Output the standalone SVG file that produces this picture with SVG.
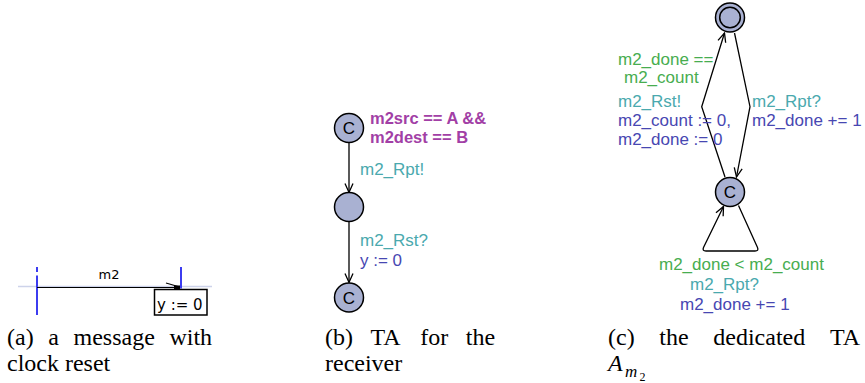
<svg xmlns="http://www.w3.org/2000/svg" width="865" height="383" viewBox="0 0 865 383">
<style>
.loc{fill:#a9b1d2;stroke:#000;stroke-width:1.5}
.edge{fill:none;stroke:#000;stroke-width:1.3}
.lbl{font-family:"Liberation Sans",Arial,sans-serif;font-size:17px}
.cl{font-family:"Liberation Sans",Arial,sans-serif;font-size:17px;fill:#000;text-anchor:middle}
.guard{fill:#47ad50}
.sync{fill:#4aa9ae}
.upd{fill:#4747b2}
.inv{fill:#a23fa6;font-weight:bold;font-size:16.5px}
.cap{font-family:"Liberation Serif","Times New Roman",serif;font-size:24px;fill:#000}
.life{stroke:#3c3cf0;stroke-width:2}
.msc{font-family:"DejaVu Sans",sans-serif;fill:#000}
</style>
<defs>
<marker id="arr" viewBox="-10 -6 12 12" markerWidth="12" markerHeight="12" refX="0" refY="0" orient="auto" markerUnits="userSpaceOnUse">
<path d="M -9,-4 L 0,0 L -9,4" fill="none" stroke="#000" stroke-width="1.3"/>
</marker>
</defs>

<!-- (a) message sequence -->
<g id="msc-a">
<line x1="18" y1="286.5" x2="212" y2="286.5" stroke="#cdd3ea" stroke-width="1.5"/>
<line class="life" x1="37" y1="267" x2="37" y2="272"/>
<line class="life" x1="37" y1="275.5" x2="37" y2="315"/>
<line class="life" x1="181" y1="267" x2="181" y2="288.5"/>
<line x1="37" y1="287.5" x2="179" y2="287.5" stroke="#000" stroke-width="1.2"/>
<path d="M 166,283 L 178,286.5" stroke="#000" stroke-width="1.2" fill="none"/>
<rect x="174" y="285.5" width="6" height="3.5" fill="#000"/>
<text class="msc" x="109" y="279" font-size="13" text-anchor="middle">m2</text>
<rect x="154.5" y="289.5" width="52.5" height="25.5" fill="#fff" stroke="#000" stroke-width="1.5"/>
<text class="msc" x="157" y="310" font-size="15">y := 0</text>
</g>

<!-- connectors -->
<g id="connectors">
<line class="edge" x1="349" y1="143" x2="349" y2="192.5" marker-end="url(#arr)"/>
<line class="edge" x1="349" y1="222" x2="349" y2="282.5" marker-end="url(#arr)"/>
<path class="edge" d="M 725,177 L 701.7,106.7 L 724.5,33" marker-end="url(#arr)"/>
<path class="edge" d="M 734.5,33 L 750,106.7 L 736.5,177" marker-end="url(#arr)"/>
<path class="edge" d="M 738.5,205.5 L 757.5,247.5 Q 759,251 755,251 L 706,251 Q 702,251 703.5,247.5 L 723.5,206.5" marker-end="url(#arr)"/>
</g>

<!-- (b) receiver TA -->
<g id="b-n1">
<circle class="loc" cx="349" cy="128" r="14.5"/>
<text class="cl" x="349" y="134">C</text>
<text class="lbl inv" x="370" y="124">m2src == A &amp;&amp;</text>
<text class="lbl inv" x="370" y="142.5">m2dest == B</text>
</g>
<g id="b-n2">
<circle class="loc" cx="349" cy="207" r="14.5"/>
</g>
<g id="b-n3">
<circle class="loc" cx="349" cy="297.5" r="14.5"/>
<text class="cl" x="349" y="303.5">C</text>
</g>
<g id="b-labels">
<text class="lbl sync" x="360" y="175">m2_Rpt!</text>
<text class="lbl sync" x="360" y="245.5">m2_Rst?</text>
<text class="lbl upd" x="360" y="265.5">y := 0</text>
</g>

<!-- (c) dedicated TA -->
<g id="c-init">
<circle class="loc" cx="730" cy="17.5" r="14.5"/>
<circle cx="730" cy="17.5" r="10.3" fill="none" stroke="#000" stroke-width="1.5"/>
</g>
<g id="c-n2">
<circle class="loc" cx="730" cy="192" r="14.5"/>
<text class="cl" x="730" y="198">C</text>
</g>
<g id="c-labels">
<text class="lbl guard" x="618" y="64.5">m2_done ==</text>
<text class="lbl guard" x="624" y="82.5">m2_count</text>
<text class="lbl sync" x="618" y="106.5">m2_Rst!</text>
<text class="lbl upd" x="618" y="126">m2_count := 0,</text>
<text class="lbl upd" x="618" y="144.5">m2_done := 0</text>
<text class="lbl sync" x="752" y="106.5">m2_Rpt?</text>
<text class="lbl upd" x="752" y="126">m2_done += 1</text>
<text class="lbl guard" x="659" y="270">m2_done &lt; m2_count</text>
<text class="lbl sync" x="690" y="289.5">m2_Rpt?</text>
<text class="lbl upd" x="680" y="310">m2_done += 1</text>
</g>

<!-- captions -->
<g id="captions">
<text class="cap" y="345"><tspan x="7">(a)</tspan><tspan x="48.2">a</tspan><tspan x="73.5">message</tspan><tspan x="169.4">with</tspan></text>
<text class="cap" x="7" y="371">clock reset</text>
<text class="cap" y="345"><tspan x="325">(b)</tspan><tspan x="370.6">TA</tspan><tspan x="420.2">for</tspan><tspan x="465.8">the</tspan></text>
<text class="cap" x="325" y="371">receiver</text>
<text class="cap" y="345"><tspan x="608">(c)</tspan><tspan x="659.3">the</tspan><tspan x="713.3">dedicated</tspan><tspan x="830">TA</tspan></text>
<text class="cap" y="371"><tspan x="608" font-style="italic">A</tspan><tspan x="625" y="377" font-size="17" font-style="italic">m</tspan><tspan x="639.5" y="380.5" font-size="12">2</tspan></text>
</g>
</svg>
